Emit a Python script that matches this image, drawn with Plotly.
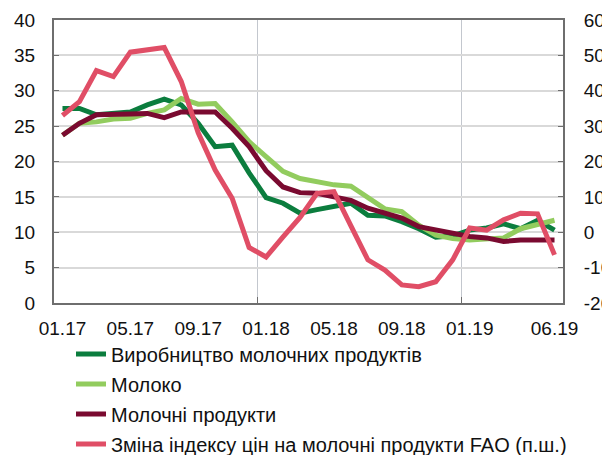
import plotly.graph_objects as go

months = ["01.17","02.17","03.17","04.17","05.17","06.17","07.17","08.17","09.17","10.17","11.17","12.17",
          "01.18","02.18","03.18","04.18","05.18","06.18","07.18","08.18","09.18","10.18","11.18","12.18",
          "01.19","02.19","03.19","04.19","05.19","06.19"]

dairy_production = [27.5, 27.5, 26.6, 26.8, 27.0, 28.0, 28.8, 28.0, 25.4, 22.1, 22.3, 18.4,
                    14.9, 14.1, 12.7, 13.2, 13.6, 14.1, 12.4, 12.3, 11.5, 10.5, 9.3, 9.5,
                    10.3, 10.6, 11.2, 10.5, 11.7, 10.3]
milk = [23.7, 25.4, 25.6, 26.0, 26.1, 26.8, 27.3, 28.9, 28.1, 28.2, 25.6, 22.8,
        20.7, 18.6, 17.6, 17.2, 16.7, 16.5, 14.8, 13.3, 12.9, 11.0, 9.6, 9.1,
        8.9, 9.0, 9.2, 10.5, 11.1, 11.7]
dairy_products = [23.7, 25.4, 26.6, 26.6, 26.7, 26.8, 26.2, 27.0, 27.0, 27.0, 24.7, 22.1,
                  18.7, 16.4, 15.6, 15.5, 15.0, 14.5, 13.4, 12.7, 12.0, 10.8, 10.3, 9.9,
                  9.4, 9.2, 8.7, 8.9, 8.9, 8.9]
fao_index = [33.0, 36.9, 45.7, 44.0, 50.9, 51.5, 52.2, 42.6, 28.1, 17.6, 9.6, -4.3,
             -7.0, -1.3, 4.2, 11.0, 11.5, 1.8, -7.8, -10.7, -14.9, -15.4, -14.0, -7.8,
             1.2, 0.6, 3.5, 5.4, 5.2, -6.4]

names = ["Виробництво молочних продуктів", "Молоко", "Молочні продукти",
         "Зміна індексу цін на молочні продукти FAO (п.ш.)"]
colors = ["#0B7D3E", "#92CC5E", "#7A0A30", "#E04E66"]

tick_idx = [0, 4, 8, 12, 16, 20, 24, 29]
tick_labels = [months[i] for i in tick_idx]
left_ticks = list(range(0, 41, 5))
right_ticks = list(range(-20, 61, 10))
right_labels = [str(v) for v in right_ticks]

x = list(range(len(months)))
font = "Liberation Sans, Arial, sans-serif"

fig = go.Figure()
for i, (vals, ax) in enumerate([(dairy_production, "y"), (milk, "y"), (dairy_products, "y"), (fao_index, "y2")]):
    fig.add_trace(go.Scatter(x=x, y=vals, name=names[i], mode="lines", yaxis=ax,
                             line=dict(color=colors[i], width=5), legendgroup=str(i),
                             hovertext=months))

axis_line = "#6E6E6E"
fig.update_layout(
    width=602, height=447,
    margin=dict(l=46, r=47, t=12, b=152, autoexpand=False),
    paper_bgcolor="white", plot_bgcolor="white",
    font=dict(family=font, size=19, color="#111111"),
    showlegend=True,
    legend=dict(x=0.0334, y=-0.111, xanchor="left", yanchor="top", xref="paper", yref="paper",
                font=dict(size=20), tracegroupgap=1, itemwidth=30, bgcolor="rgba(0,0,0,0)"),
    xaxis=dict(range=[-0.5, 29.5], tickvals=tick_idx, ticktext=tick_labels, ticks="",
               showgrid=False, showline=True, linecolor=axis_line, linewidth=2, mirror=True,
               zeroline=False, ticklabelstandoff=7, automargin=False,
               minor=dict(tickvals=[11.5, 23.5], ticks="inside", ticklen=6, tickcolor=axis_line,
                          showgrid=True, gridcolor="#C3C7CE", gridwidth=1)),
    yaxis=dict(range=[0, 40], tickvals=left_ticks, ticks="inside", ticklen=5, tickcolor=axis_line,
               showgrid=True, gridcolor="#D9D9D9", gridwidth=1.5, showline=True, linecolor=axis_line,
               linewidth=2, zeroline=False, ticklabelstandoff=13, automargin=False),
    yaxis2=dict(range=[-20, 60], tickvals=right_ticks, ticktext=right_labels, overlaying="y",
                side="right", ticks="inside",
                ticklen=5, tickcolor=axis_line, showgrid=False, showline=True, linecolor=axis_line,
                linewidth=2, zeroline=False, ticklabelstandoff=15, automargin=False),
)
fig.write_html("out.html")
